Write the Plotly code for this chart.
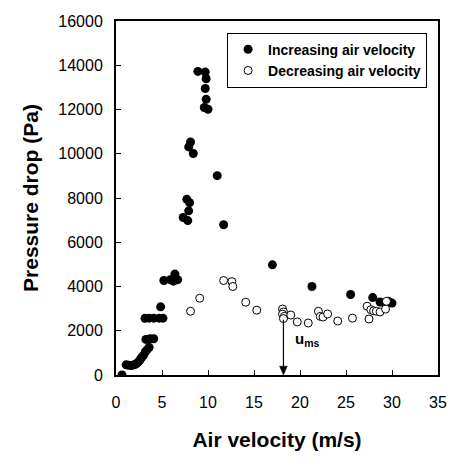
import plotly.graph_objects as go

# Increasing air velocity (filled)
inc_v = [0.65, 1.1, 1.4, 1.7, 2.0, 2.2, 2.4, 2.6, 2.8, 3.0, 3.2, 3.4, 3.6,
         3.25, 3.7, 4.1, 3.15, 3.6, 4.1, 4.7, 5.1, 4.85,
         5.2, 5.9, 6.4, 6.25, 6.7,
         7.7, 8.0, 7.9, 7.3, 7.8,
         8.1, 7.9, 8.4,
         8.9, 9.7, 9.8, 9.7, 9.8, 9.6, 10.0,
         11.0, 11.7, 17.0, 21.3, 25.5, 27.9, 28.7, 29.2, 29.6, 30.0]
inc_p = [0, 460, 440, 430, 470, 500, 580, 680, 800, 900, 1050, 1150, 1250,
         1610, 1640, 1640, 2560, 2570, 2570, 2570, 2570, 3080,
         4270, 4310, 4560, 4240, 4310,
         7940, 7790, 7420, 7120, 6980,
         10530, 10310, 10010,
         13720, 13690, 13390, 12950, 12460, 12090, 12010,
         9010, 6790, 4980, 4000, 3640, 3500, 3300, 3250, 3330, 3250]

# Decreasing air velocity (open)
dec_v = [8.1, 9.1, 11.7, 12.6, 12.7, 14.1, 15.3, 18.1, 18.2, 18.1, 18.3, 18.2,
         19.0, 19.7, 20.9, 22.0, 22.2, 22.5, 23.0, 24.1, 25.7, 27.3, 27.5,
         27.7, 28.0, 28.3, 28.7, 29.3, 29.4]
dec_p = [2880, 3470, 4270, 4220, 4000, 3290, 2930, 2980, 2850, 2750, 2650, 2550,
         2710, 2400, 2350, 2880, 2650, 2620, 2760, 2440, 2570, 3110, 2530,
         2950, 2900, 2880, 2850, 2980, 3330]

u_ms = 18.2
u_ms_arrow_top = 2500
u_ms_label_y = 1600

x_ticks = [0, 5, 10, 15, 20, 25, 30, 35]
y_ticks = [0, 2000, 4000, 6000, 8000, 10000, 12000, 14000, 16000]

# arrowhead size (data units)
head_half_w = 0.42
head_h = 400

FONT = "Liberation Sans, Arial, sans-serif"

fig = go.Figure()
fig.add_trace(go.Scatter(
    x=inc_v, y=inc_p, mode="markers", name="<b>Increasing air velocity</b>",
    marker=dict(symbol="circle", size=9, color="black"),
))
fig.add_trace(go.Scatter(
    x=dec_v, y=dec_p, mode="markers", name="<b>Decreasing air velocity</b>",
    marker=dict(symbol="circle", size=8, color="white", line=dict(width=1, color="black")),
))

# u_ms arrow (line + filled head)
fig.add_shape(type="line", xref="x", yref="y", x0=u_ms, x1=u_ms,
              y0=u_ms_arrow_top, y1=head_h, line=dict(color="black", width=1.2))
fig.add_shape(type="path", xref="x", yref="y",
              path=f"M {u_ms - head_half_w},{head_h} L {u_ms + head_half_w},{head_h} L {u_ms},0 Z",
              fillcolor="black", line=dict(color="black", width=0.5))
fig.add_annotation(x=u_ms, y=u_ms_label_y, xref="x", yref="y",
                   text="<b>u<sub>ms</sub></b>", showarrow=False,
                   xanchor="left", xshift=10,
                   font=dict(family=FONT, size=15, color="black"))

fig.update_layout(
    width=459, height=460,
    margin=dict(l=116, r=12, t=21, b=78),
    plot_bgcolor="white", paper_bgcolor="white",
    font=dict(family=FONT, color="black"),
    showlegend=True,
    legend=dict(x=0.345, y=0.967, xanchor="left", yanchor="top",
                bordercolor="black", borderwidth=1, bgcolor="white",
                font=dict(family=FONT, size=14, color="black")),
    xaxis=dict(range=[x_ticks[0], x_ticks[-1]], tickvals=x_ticks,
               ticks="inside", ticklen=5, tickwidth=1, tickcolor="black",
               showline=True, linewidth=2, linecolor="black", mirror=True,
               showgrid=False, zeroline=False,
               tickfont=dict(family=FONT, size=16, color="black"),
               ticklabelstandoff=12,
               title=dict(text="<b>Air velocity (m/s)</b>",
                          font=dict(family=FONT, size=21, color="black"),
                          standoff=22)),
    yaxis=dict(range=[y_ticks[0], y_ticks[-1]], tickvals=y_ticks,
               ticks="inside", ticklen=5, tickwidth=1, tickcolor="black",
               showline=True, linewidth=2, linecolor="black", mirror=True,
               showgrid=False, zeroline=False, tickformat="d",
               tickfont=dict(family=FONT, size=16, color="black"),
               ticklabelstandoff=8,
               title=dict(text="<b>Pressure drop (Pa)</b>",
                          font=dict(family=FONT, size=21, color="black"),
                          standoff=14)),
)

fig.write_html("out.html", config={"displayModeBar": False},
               post_script="document.body.style.margin='0';document.body.style.overflow='hidden';")
